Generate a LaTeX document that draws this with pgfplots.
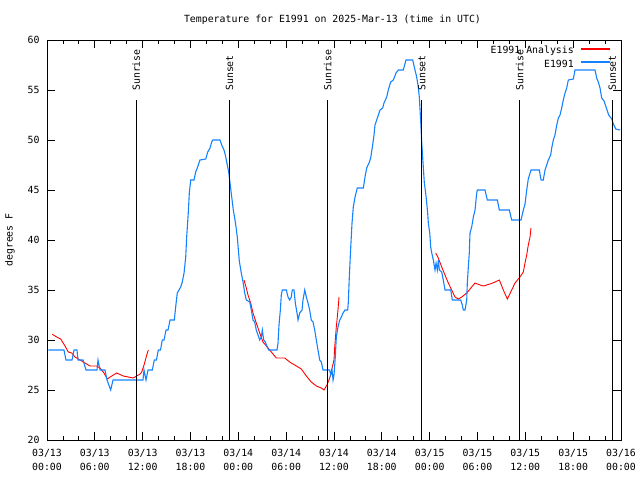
\documentclass[border=0pt]{standalone}
\usepackage{fontspec}
\setmainfont{DejaVu Sans Mono}
\usepackage{pgfplots}
\pgfplotsset{compat=1.18}
\definecolor{obsblue}{RGB}{20,130,255}
\definecolor{anared}{RGB}{255,0,0}

\begin{document}
\begin{tikzpicture}[font=\fontsize{9.9}{13.5}\selectfont]
\begin{axis}[
    width=574bp, height=400bp, scale only axis,
    xmin=0, xmax=72, ymin=20, ymax=60,
    clip=false,
    xtick={0,6,...,72},
    xticklabels={{03/13\\00:00},{03/13\\06:00},{03/13\\12:00},{03/13\\18:00},
                 {03/14\\00:00},{03/14\\06:00},{03/14\\12:00},{03/14\\18:00},
                 {03/15\\00:00},{03/15\\06:00},{03/15\\12:00},{03/15\\18:00},
                 {03/16\\00:00}},
    xticklabel style={align=center, font=\fontsize{9.9}{13.5}\selectfont, yshift=-6bp},
    minor x tick num=2,
    ytick={20,25,...,60},
    yticklabel style={xshift=-4bp},
    /pgf/number format/assume math mode=true,
    tick pos=both, tick align=inside,
    major tick length=8bp, minor tick length=4bp,
    every tick/.style={black, line width=0.8bp},
    axis line style={line width=0.8bp},
]
\coordinate (bl) at (rel axis cs:0,0);
\coordinate (tr) at (rel axis cs:1,1);

% analysis (red), three separate runs
\addplot[color=anared, line width=0.9bp, unbounded coords=jump] coordinates {
(0.66,30.57) (1.22,30.3) (1.72,30.1) (2.26,29.4) (2.67,28.8) (3.10,28.7) (3.51,28.3)
(4.14,28.0) (4.77,27.7) (5.39,27.4) (6.23,27.4) (6.65,27.2) (7.15,26.7) (7.56,26.1)
(8.12,26.4) (8.74,26.7) (9.57,26.4) (10.20,26.3) (10.83,26.2) (11.25,26.4) (11.67,26.6)
(11.88,26.8) (12.17,27.5) (12.51,28.5) (12.71,29.0)
(18,nan)
(24.71,36.0) (25.00,35.2) (25.21,34.5) (25.55,33.7) (25.84,32.7) (26.25,31.7) (26.68,30.7)
(27.09,29.8) (27.63,29.3) (28.14,28.8) (28.76,28.2) (29.82,28.2) (30.44,27.8) (30.86,27.6)
(31.49,27.3) (31.90,27.1) (32.53,26.4) (33.15,25.8) (33.78,25.4) (34.41,25.2) (34.75,25.0)
(35.12,25.5) (35.46,26.2) (36.00,28.0) (36.09,29.3) (36.29,31.3) (36.50,33.0) (36.63,34.3)
(42,nan)
(48.76,38.7) (49.08,38.2) (49.51,37.3) (49.92,36.5) (50.34,35.7) (50.76,35.0) (51.18,34.3)
(51.59,34.1) (52.02,34.3) (52.65,34.7) (53.27,35.3) (53.69,35.7) (54.31,35.5) (54.73,35.4)
(55.57,35.6) (56.20,35.8) (56.74,36.0) (57.24,35.0) (57.74,34.1) (58.29,35.0) (58.71,35.7)
(59.33,36.3) (59.75,36.8) (59.96,37.7) (60.17,38.5) (60.37,39.5) (60.59,40.3) (60.71,41.2)
};

% observations (blue)
\addplot[color=obsblue, line width=1.1bp] coordinates {
(0.16,29) (2.13,29) (2.38,28) (3.14,28) (3.39,29) (3.76,29) (3.89,28) (4.52,28) (4.89,27)
(6.27,27) (6.40,28) (6.65,27) (7.28,27) (7.53,26) (7.99,25) (8.28,26) (12.04,26) (12.17,27)
(12.42,26) (12.67,27) (13.21,27) (13.46,28) (13.73,28) (13.96,29) (14.24,29) (14.46,30)
(14.68,30) (14.93,31) (15.18,31) (15.43,32) (15.97,32) (16.14,33.3) (16.34,34.7) (16.56,35)
(16.77,35.3) (16.97,35.8) (17.19,36.7) (17.40,38.3) (17.52,40.3) (17.72,42.7) (17.85,44.7)
(18.03,46) (18.44,46) (18.65,46.8) (18.85,47.2) (19.19,48) (19.91,48.1) (20.16,48.8)
(20.45,49.2) (20.66,49.8) (20.79,50) (21.70,50) (21.91,49.5) (22.20,49) (22.37,48.5)
(22.54,47.8) (22.79,46.8) (22.96,45.7) (23.17,44.3) (23.37,43) (23.58,42) (23.71,41.3)
(23.87,40.3) (24.12,37.9) (24.37,36.7) (24.59,35.8) (24.80,34.7) (25.00,34) (25.43,33.8)
(25.63,33) (25.84,32) (26.05,31.8) (26.25,31) (26.47,30.5) (26.68,30) (26.88,30.3)
(27.01,31) (27.18,30) (27.38,29.8) (27.63,29.3) (27.81,29) (28.85,29) (28.98,29.7)
(29.10,31.5) (29.27,33) (29.39,34.5) (29.52,35) (30.02,35) (30.23,34.3) (30.44,34)
(30.64,34.3) (30.77,35) (30.98,35) (31.15,33.7) (31.36,32.7) (31.49,32) (31.70,32.7)
(31.99,33) (32.11,34) (32.33,35) (32.53,34.3) (32.74,33.7) (32.95,33) (33.15,32)
(33.37,31.8) (33.58,31) (33.78,30) (33.99,29) (34.21,28) (34.41,27.8) (34.62,27)
(35.46,27) (35.59,26.5) (35.75,27) (35.88,26) (36.00,26.5) (36.16,28.3) (36.29,30.3)
(36.50,31.3) (36.72,32) (36.92,32.3) (37.13,32.7) (37.38,33) (37.72,33) (37.79,33.7)
(37.92,36.3) (38.10,39.3) (38.26,41.7) (38.42,43.3) (38.64,44.3) (38.92,45.2) (39.68,45.2)
(39.89,46.3) (40.10,47.2) (40.39,47.7) (40.60,48.2) (40.81,49.3) (41.02,50.5) (41.14,51.5)
(41.36,52) (41.77,53) (42.11,53.2) (42.27,53.7) (42.61,54.3) (42.81,55) (43.11,55.8)
(43.44,56) (43.78,56.7) (44.07,57) (44.69,57) (45.03,58) (45.87,58) (46.07,57.3)
(46.37,56.3) (46.57,55.3) (46.70,54.3) (46.88,51.8) (47.00,49.8) (47.20,47.3) (47.33,45.7)
(47.50,44.7) (47.63,43.7) (47.75,42.7) (47.83,41.7) (48.01,40.7) (48.13,39.3) (48.26,38.7)
(48.46,38) (48.67,37) (48.80,37.7) (48.96,37) (49.09,38) (49.21,37) (49.51,36.8)
(49.71,36) (49.92,35) (50.64,35) (50.84,34) (51.89,34) (52.09,33.5) (52.22,33)
(52.43,33) (52.65,34) (52.72,35.7) (52.85,37.3) (52.97,38.7) (53.06,40.7) (53.27,41.3)
(53.48,42.3) (53.69,43) (53.90,44.7) (53.98,45) (54.94,45) (55.23,44) (56.49,44)
(56.74,43) (57.99,43) (58.29,42) (59.46,42) (59.75,43) (59.96,43.6) (60.17,45)
(60.37,46.1) (60.71,47) (61.75,47) (61.97,46) (62.25,46) (62.47,47) (62.68,47.5)
(62.88,48) (63.18,48.5) (63.31,49.2) (63.51,50) (63.72,50.5) (63.94,51.5) (64.14,52.2)
(64.35,52.5) (64.56,53.2) (64.76,54) (64.98,54.7) (65.19,55.2) (65.39,56) (66.02,56.1)
(66.23,57) (68.74,57) (68.95,56.2) (69.15,55.8) (69.37,55.2) (69.58,54.2) (69.87,53.9)
(70.21,53.1) (70.46,52.5) (70.84,52.1) (71.04,51.6) (71.34,51.1) (71.88,51)
};

% sunrise / sunset markers
\addplot[black, line width=0.9bp] coordinates {(11.2,20) (11.2,54)};
\addplot[black, line width=0.9bp] coordinates {(22.9,20) (22.9,54)};
\addplot[black, line width=0.9bp] coordinates {(35.2,20) (35.2,54)};
\addplot[black, line width=0.9bp] coordinates {(47.0,20) (47.0,54)};
\addplot[black, line width=0.9bp] coordinates {(59.3,20) (59.3,54)};
\addplot[black, line width=0.9bp] coordinates {(70.9,20) (70.9,54)};

\node[rotate=90, anchor=west, inner sep=0pt, xshift=1bp] at (axis cs:11.2,54.8) {Sunrise};
\node[rotate=90, anchor=west, inner sep=0pt, xshift=1bp] at (axis cs:22.9,54.8) {Sunset};
\node[rotate=90, anchor=west, inner sep=0pt, xshift=1bp] at (axis cs:35.2,54.8) {Sunrise};
\node[rotate=90, anchor=west, inner sep=0pt, xshift=1bp] at (axis cs:47.0,54.8) {Sunset};
\node[rotate=90, anchor=west, inner sep=0pt, xshift=1bp] at (axis cs:59.3,54.8) {Sunrise};
\node[rotate=90, anchor=west, inner sep=0pt, xshift=1bp] at (axis cs:70.9,54.8) {Sunset};

\node[rotate=90] at ([xshift=-37bp]rel axis cs:0,0.5) {degrees F};
\node at ([xshift=-1.5bp,yshift=20bp]rel axis cs:0.5,1) {Temperature for E1991 on 2025-Mar-13 (time in UTC)};
\end{axis}

% key, top right inside the frame
\node[anchor=east, inner sep=0pt] at ([shift={(-47bp,-10.5bp)}]tr) {E1991 Analysis};
\draw[anared, line width=1.1bp] ([shift={(-40bp,-9bp)}]tr) -- ([shift={(-11bp,-9bp)}]tr);
\node[anchor=east, inner sep=0pt] at ([shift={(-47bp,-23.5bp)}]tr) {E1991};
\draw[obsblue, line width=1.1bp] ([shift={(-40bp,-22bp)}]tr) -- ([shift={(-11bp,-22bp)}]tr);

\pgfresetboundingbox
\path[use as bounding box] ([shift={(-47bp,-40bp)}]bl) rectangle ([shift={(19bp,40bp)}]tr);
\end{tikzpicture}
\end{document}
